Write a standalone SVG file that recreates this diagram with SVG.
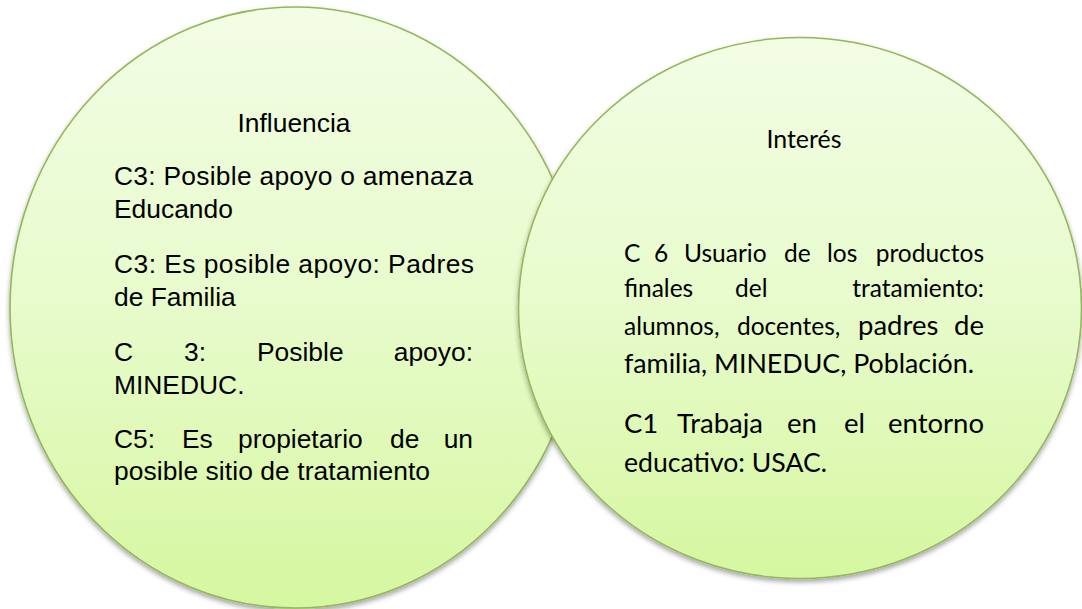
<svg xmlns="http://www.w3.org/2000/svg" width="1082" height="609" viewBox="0 0 1082 609">
  <defs>
    <linearGradient id="fillGrad" x1="0" y1="0" x2="0" y2="1">
      <stop offset="0" stop-color="#F3FDE5"/>
      <stop offset="0.5" stop-color="#E7FBCB"/>
      <stop offset="1" stop-color="#D6F7A0"/>
    </linearGradient>
    <filter id="shadow" x="-10%" y="-10%" width="120%" height="120%">
      <feDropShadow dx="0" dy="3" stdDeviation="2.5" flood-color="#000" flood-opacity="0.35"/>
    </filter>
    <style>
      .bubble { fill: url(#fillGrad); stroke: #93B75A; stroke-width: 1.6; filter: url(#shadow); }
      .arial { font-family: "Liberation Sans", Arial, sans-serif; font-size: 26.4px; fill: #000; }
      .cal-s { font-family: Lato, "Open Sans", sans-serif; font-size: 24.5px; fill: #000; }
      .cal-l { font-family: Lato, "Open Sans", sans-serif; font-size: 27.5px; fill: #000; }
    </style>
  </defs>
  <rect width="1082" height="609" fill="#FFFFFF"/>

  <g id="connectors"/>

  <g id="node-influencia">
    <ellipse class="bubble" cx="295" cy="307.5" rx="285" ry="300.5"/>
    <text class="arial" x="294" y="132" text-anchor="middle" textLength="113" lengthAdjust="spacingAndGlyphs">Influencia</text>
    <text class="arial" x="114" y="185" textLength="359" lengthAdjust="spacing">C3: Posible apoyo o amenaza</text>
    <text class="arial" x="114" y="218">Educando</text>
    <text class="arial" x="114" y="273" textLength="360" lengthAdjust="spacing">C3: Es posible apoyo: Padres</text>
    <text class="arial" x="114" y="306">de Familia</text>
    <text class="arial" y="361"><tspan x="114">C</tspan><tspan x="184">3:</tspan><tspan x="257">Posible</tspan></text>
    <text class="arial" x="473" y="361" text-anchor="end">apoyo:</text>
    <text class="arial" x="114" y="394">MINEDUC.</text>
    <text class="arial" y="448"><tspan x="114">C5:</tspan><tspan x="182">Es</tspan><tspan x="238">propietario</tspan><tspan x="390">de</tspan></text>
    <text class="arial" x="473" y="448" text-anchor="end">un</text>
    <text class="arial" x="114" y="480" textLength="316" lengthAdjust="spacing">posible sitio de tratamiento</text>
  </g>

  <g id="node-interes">
    <ellipse class="bubble" cx="800" cy="308" rx="281.5" ry="270.5"/>
    <text class="cal-s" x="804" y="148" text-anchor="middle" textLength="75" lengthAdjust="spacingAndGlyphs">Interés</text>
    <text class="cal-s" y="262"><tspan x="624">C</tspan><tspan x="654">6</tspan><tspan x="684">Usuario</tspan><tspan x="784">de</tspan><tspan x="827">los</tspan></text>
    <text class="cal-s" x="984" y="262" text-anchor="end">productos</text>
    <text class="cal-s" y="297"><tspan x="624">finales</tspan><tspan x="735">del</tspan></text>
    <text class="cal-s" x="984" y="297" text-anchor="end">tratamiento:</text>
    <text class="cal-s" y="335"><tspan x="624">alumnos,</tspan><tspan x="737">docentes,</tspan></text>
    <text class="cal-l" x="858" y="335">padres</text>
    <text class="cal-l" x="984" y="335" text-anchor="end">de</text>
    <text class="cal-l" x="624" y="373" textLength="350" lengthAdjust="spacingAndGlyphs">familia, MINEDUC, Población.</text>
    <text class="cal-l" y="433"><tspan x="624">C1</tspan><tspan x="677">Trabaja</tspan><tspan x="787">en</tspan><tspan x="844">el</tspan></text>
    <text class="cal-l" x="984" y="433" text-anchor="end">entorno</text>
    <text class="cal-l" x="624" y="472" textLength="203" lengthAdjust="spacingAndGlyphs">educativo: USAC.</text>
  </g>
</svg>
